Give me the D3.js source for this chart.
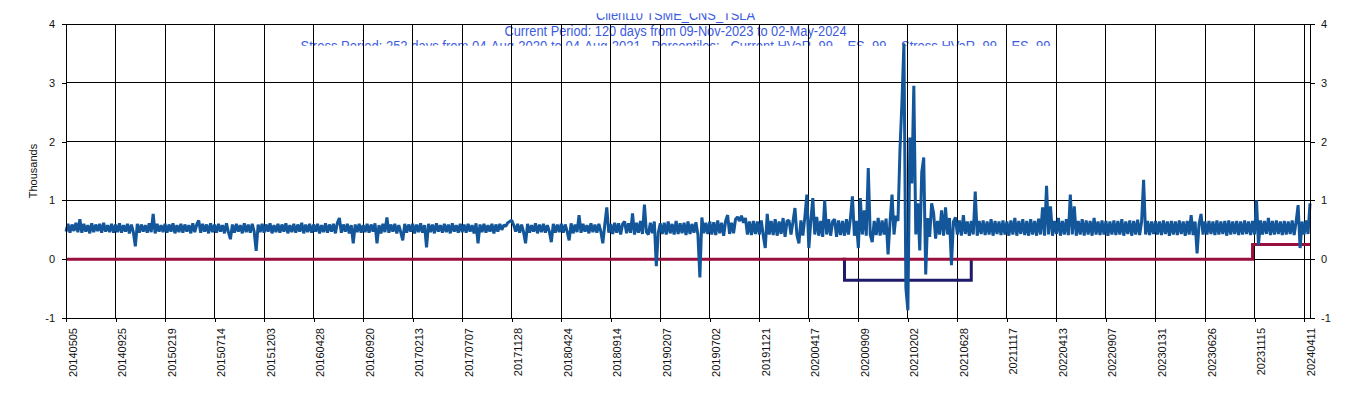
<!DOCTYPE html>
<html>
<head>
<meta charset="utf-8">
<script src="https://cdn.jsdelivr.net/npm/d3@7/dist/d3.min.js"></script>
<style>
  body { margin: 0; background: #fff; }
  svg { display: block; font-family: Arial, "Liberation Sans", sans-serif; }
</style>
</head>
<body>
<div id="chart"></div>
<script>
// title lines (centred on the page)
const titleLines = [
  'Client10 TSME_CNS_TSLA',
  'Current Period: 120 days from 09-Nov-2023 to 02-May-2024',
  'Stress Period: 252 days from 04-Aug-2020 to 04-Aug-2021.  Percentiles:   Current HVaR .99    ES .99    Stress HVaR .99    ES .99'
];

// one x label every 25 samples (100 trading days)
const tickLabels = [
  '20140505', '20140925', '20150219', '20150714', '20151203', '20160428', '20160920',
  '20170213', '20170707', '20171128', '20180424', '20180914', '20190207', '20190702',
  '20191121', '20200417', '20200909', '20210202', '20210628', '20211117', '20220413',
  '20220907', '20230131', '20230626', '20231115', '20240411'
];
const tickStep = 25;

const yTicks = [-1000, 0, 1000, 2000, 3000, 4000];

// daily exposure, sampled every 4th trading day
const exposure = [
  470,600,450,590,480,620,460,680,450,600,470,580,440,610,460,590,480,600,450,620,470,580,460,600,450,
  590,460,610,450,580,470,600,440,590,460,220,600,450,590,470,580,450,610,460,770,440,600,470,580,460,
  600,450,590,470,610,440,580,460,600,450,590,470,580,440,610,460,590,660,450,600,470,590,440,610,460,
  590,450,600,470,580,440,610,460,340,590,450,600,470,580,440,610,460,590,450,600,470,140,590,460,600,
  450,590,470,610,440,580,460,600,450,590,470,610,440,580,460,600,450,590,470,620,440,590,460,600,450,
  590,470,600,440,580,460,610,450,590,470,600,440,620,700,450,590,470,600,440,580,270,590,460,600,450,
  580,460,600,450,590,470,610,270,580,440,600,460,710,450,590,470,600,440,580,460,320,600,450,590,470,
  600,440,590,460,610,450,580,200,600,460,590,440,610,470,580,450,600,460,590,440,610,470,580,450,600,
  460,590,450,600,470,580,440,610,270,590,460,600,450,580,470,600,440,590,470,600,500,580,560,620,640,
  660,580,470,600,450,590,460,270,600,450,580,470,610,440,590,460,600,450,580,470,290,600,450,590,460,
  600,450,590,470,320,610,440,590,460,750,450,600,470,580,440,610,460,590,450,600,470,270,590,880,450,
  600,430,620,450,610,420,600,640,440,610,450,780,420,620,450,650,430,930,460,420,620,440,640,-120,450,
  610,430,620,420,640,440,600,420,650,430,610,440,620,410,640,430,600,450,630,420,-310,710,440,620,430,
  640,420,630,410,660,440,620,400,650,750,430,620,440,680,720,650,740,620,700,420,640,410,650,430,640,
  420,660,400,190,770,420,650,410,680,400,640,430,700,380,650,660,420,640,870,410,270,660,400,720,1100,
  190,650,1040,420,720,400,650,380,1000,420,680,400,640,680,380,660,410,650,400,680,420,700,1070,400,650,
  190,1040,420,830,400,1550,420,290,650,410,700,400,660,420,690,80,640,1100,420,740,650,1850,2670,3670,-490,
  -870,2070,1290,2950,420,950,150,1480,1730,-260,700,380,950,780,350,650,420,830,400,880,420,700,-100,640,710,
  420,660,400,750,430,640,400,650,420,1150,400,650,430,660,410,640,420,680,400,650,430,640,410,660,420,
  640,400,660,420,700,400,650,430,680,410,650,400,680,420,650,400,690,420,880,400,1250,420,900,400,650,
  430,700,400,650,420,680,410,1100,420,900,400,650,420,680,400,660,420,650,400,700,420,640,410,660,420,
  650,400,640,420,660,410,650,420,680,400,640,430,660,400,650,420,670,410,640,1350,420,650,410,640,430,
  650,420,640,410,660,430,640,400,650,420,640,410,660,430,640,400,650,420,750,410,640,100,600,770,420,
  640,420,650,430,640,410,660,420,640,430,650,400,660,420,640,430,650,410,640,420,660,430,640,410,650,
  420,1000,240,660,420,650,430,700,410,650,420,660,430,640,410,650,420,640,430,660,410,640,920,190,640,
  420,660,430,950
];

// periods as [first sample, last sample] and their HVaR levels
const currentPeriod = [599, 628];
const currentLevel = 250;
const stressPeriod = [393, 456];
const stressLevel = -357;

const width = 1353;
const height = 398;
const plot = { left: 66, right: 1310, top: 24, bottom: 318 };

const svg = d3.select('#chart')
  .append('svg')
  .attr('width', width)
  .attr('height', height);

svg.append('rect')
  .attr('width', width)
  .attr('height', height)
  .attr('fill', '#fff');

const x = d3.scaleLinear()
  .domain([0, exposure.length - 1])
  .range([plot.left, plot.right]);

const y = d3.scaleLinear()
  .domain([-1000, 4000])
  .range([plot.bottom, plot.top]);

const tickIdx = tickLabels.map((d, i) => i * tickStep);

// title, clipped like the original
svg.append('clipPath')
  .attr('id', 'titleClip')
  .append('rect')
  .attr('x', 0).attr('y', 13.3)
  .attr('width', width).attr('height', 32.4);

const titleBase = [19.5, 36, 50.5];
const titleWidth = [159, 342, 750];
svg.append('g')
  .attr('clip-path', 'url(#titleClip)')
  .selectAll('text')
  .data(titleLines)
  .enter()
  .append('text')
  .attr('x', 675.5)
  .attr('y', (d, i) => titleBase[i])
  .attr('text-anchor', 'middle')
  .attr('textLength', (d, i) => titleWidth[i])
  .attr('lengthAdjust', 'spacingAndGlyphs')
  .attr('font-size', 14)
  .attr('fill', '#3c5ce0')
  .style('white-space', 'pre')
  .text(d => d);

// grid
const grid = svg.append('g')
  .attr('stroke', '#000')
  .attr('stroke-width', 1)
  .attr('shape-rendering', 'crispEdges');

grid.selectAll('.hgrid')
  .data(yTicks)
  .enter()
  .append('line')
  .attr('x1', plot.left).attr('x2', plot.right)
  .attr('y1', d => y(d)).attr('y2', d => y(d));

grid.selectAll('.vgrid')
  .data(tickIdx)
  .enter()
  .append('line')
  .attr('x1', d => x(d)).attr('x2', d => x(d))
  .attr('y1', plot.top).attr('y2', plot.bottom);

grid.append('rect')
  .attr('x', plot.left).attr('y', plot.top)
  .attr('width', plot.right - plot.left)
  .attr('height', plot.bottom - plot.top)
  .attr('fill', 'none');

// series
const stressSeries = exposure.map((d, i) => (i >= stressPeriod[0] && i <= stressPeriod[1]) ? stressLevel : 0);
const currentSeries = exposure.map((d, i) => (i >= currentPeriod[0] && i <= currentPeriod[1]) ? currentLevel : 0);

const stepLine = d3.line()
  .x((d, i) => x(i))
  .y(d => y(d))
  .curve(d3.curveStepAfter);

const line = d3.line()
  .x((d, i) => x(i))
  .y(d => y(d));

// stress bracket: only drawn around the stress period
svg.append('path')
  .datum(stressSeries)
  .attr('d', stepLine.defined((d, i) => i >= stressPeriod[0] - 1 && i <= stressPeriod[1] + 1))
  .attr('fill', 'none')
  .attr('stroke', '#1f1a6b')
  .attr('stroke-width', 3);

svg.append('path')
  .datum(currentSeries)
  .attr('d', stepLine.defined(() => true))
  .attr('fill', 'none')
  .attr('stroke', '#990f3d')
  .attr('stroke-width', 3);

svg.append('path')
  .datum(exposure)
  .attr('d', line)
  .attr('fill', 'none')
  .attr('stroke', '#13569a')
  .attr('stroke-width', 3)
  .attr('stroke-linejoin', 'bevel');

// axes
const yAxisL = d3.axisLeft(y)
  .tickValues(yTicks)
  .tickSize(4)
  .tickSizeOuter(0)
  .tickPadding(7)
  .tickFormat(d => d / 1000);

const yAxisR = d3.axisRight(y)
  .tickValues(yTicks)
  .tickSize(5)
  .tickSizeOuter(0)
  .tickPadding(6)
  .tickFormat(d => d / 1000);

const xAxis = d3.axisBottom(x)
  .tickValues(tickIdx)
  .tickSize(4)
  .tickSizeOuter(0)
  .tickFormat((d, i) => tickLabels[i]);

svg.append('g')
  .attr('class', 'yaxis')
  .attr('transform', `translate(${plot.left}, 0)`)
  .call(yAxisL);

svg.append('g')
  .attr('class', 'yaxis')
  .attr('transform', `translate(${plot.right}, 0)`)
  .call(yAxisR);

svg.append('g')
  .attr('class', 'xaxis')
  .attr('transform', `translate(0, ${plot.bottom})`)
  .call(xAxis)
  .selectAll('text')
  .attr('transform', 'rotate(-90)')
  .attr('text-anchor', 'end')
  .attr('x', -10)
  .attr('y', 10)
  .attr('dy', 0);

svg.selectAll('.yaxis text, .xaxis text')
  .attr('font-size', 11)
  .attr('font-family', 'Arial, "Liberation Sans", sans-serif')
  .attr('fill', '#111');

svg.selectAll('.yaxis line, .yaxis path, .xaxis line, .xaxis path')
  .attr('shape-rendering', 'crispEdges')
  .attr('stroke', '#000');

svg.append('text')
  .attr('transform', 'translate(37, 171) rotate(-90)')
  .attr('text-anchor', 'middle')
  .attr('font-size', 11)
  .attr('fill', '#111')
  .text('Thousands');
</script>
</body>
</html>
